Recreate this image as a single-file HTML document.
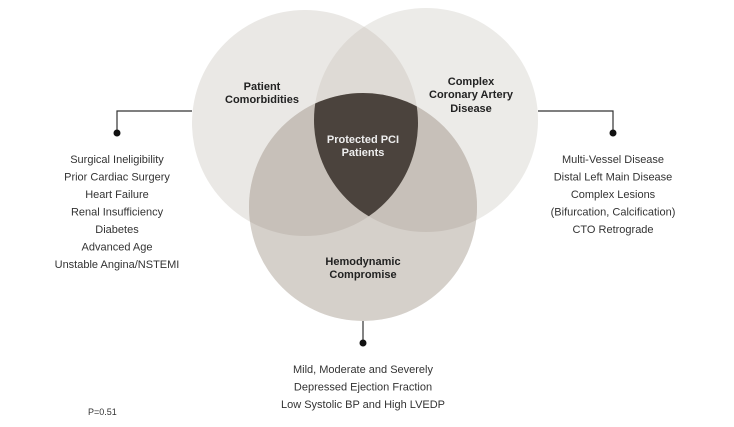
<!DOCTYPE html>
<html><head><style>
html,body{margin:0;padding:0;background:#fff;}
svg text{font-family:"Liberation Sans",sans-serif;}
</style></head><body>
<svg width="734" height="422" viewBox="0 0 734 422" xmlns="http://www.w3.org/2000/svg">
<defs>
<clipPath id="cL"><circle cx="305" cy="123" r="113"/></clipPath>
<clipPath id="cR"><circle cx="426" cy="120" r="112"/></clipPath>
<clipPath id="cB"><circle cx="363" cy="207" r="114"/></clipPath>
</defs>
<circle cx="305" cy="123" r="113" fill="#eae8e5"/>
<circle cx="426" cy="120" r="112" fill="#ecebe8"/>
<circle cx="426" cy="120" r="112" fill="#dedad5" clip-path="url(#cL)"/>
<circle cx="363" cy="207" r="114" fill="#d5d0ca"/>
<g clip-path="url(#cB)">
<circle cx="305" cy="123" r="113" fill="#c7c0b9"/>
<circle cx="426" cy="120" r="112" fill="#c7c0b9"/>
<g clip-path="url(#cL)"><circle cx="426" cy="120" r="112" fill="#4b433d"/></g>
</g>
<g stroke="#333" stroke-width="1.2" fill="none">
<polyline points="192,111 117,111 117,133"/>
<polyline points="538,111 613,111 613,133"/>
<line x1="363" y1="321" x2="363" y2="343"/>
</g>
<g fill="#111"><circle cx="117" cy="133" r="3.5"/><circle cx="613" cy="133" r="3.5"/><circle cx="363" cy="343" r="3.5"/></g>
<g font-weight="bold" font-size="11" text-anchor="middle" fill="#222">
<text x="262" y="90">Patient</text>
<text x="262" y="103">Comorbidities</text>
<text x="471" y="85">Complex</text>
<text x="471" y="98">Coronary Artery</text>
<text x="471" y="112">Disease</text>
<text x="363" y="143" fill="#eee">Protected PCI</text>
<text x="363" y="156" fill="#eee">Patients</text>
<text x="363" y="265">Hemodynamic</text>
<text x="363" y="278">Compromise</text>
</g>
<g font-size="11" text-anchor="middle" fill="#333">
<text x="117" y="163">Surgical Ineligibility</text>
<text x="117" y="180.5">Prior Cardiac Surgery</text>
<text x="117" y="198">Heart Failure</text>
<text x="117" y="215.5">Renal Insufficiency</text>
<text x="117" y="233">Diabetes</text>
<text x="117" y="250.5">Advanced Age</text>
<text x="117" y="268">Unstable Angina/NSTEMI</text>
<text x="613" y="163">Multi-Vessel Disease</text>
<text x="613" y="180.5">Distal Left Main Disease</text>
<text x="613" y="198">Complex Lesions</text>
<text x="613" y="215.5">(Bifurcation, Calcification)</text>
<text x="613" y="233">CTO Retrograde</text>
<text x="363" y="373">Mild, Moderate and Severely</text>
<text x="363" y="390.5">Depressed Ejection Fraction</text>
<text x="363" y="408">Low Systolic BP and High LVEDP</text>
</g>
<text x="88" y="415" font-size="9" fill="#333">P=0.51</text>
</svg>
</body></html>
